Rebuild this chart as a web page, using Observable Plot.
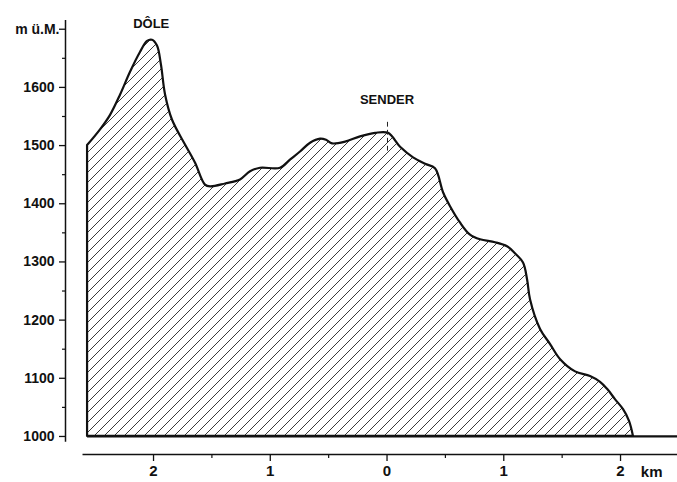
<!DOCTYPE html>
<html>
<head>
<meta charset="utf-8">
<script src="https://cdn.jsdelivr.net/npm/d3@7"></script>
<script src="https://cdn.jsdelivr.net/npm/@observablehq/plot@0.6"></script>
<style>
  html, body { margin: 0; padding: 0; background: #fff; }
  #chart svg { display: block; }
</style>
</head>
<body>
<div id="chart"></div>
<script>
// Distance from the transmitter (km, negative = west/left) and height (m ü.M.)
const profileKm = [-2.565, -2.454, -2.368, -2.282, -2.197, -2.112, -2.051, -2.009, -1.966, -1.932, -1.897, -1.838,
  -1.726, -1.641, -1.555, -1.511, -1.383, -1.255, -1.169, -1.084, -0.912, -0.827, -0.741, -0.655, -0.569,
  -0.518, -0.467, -0.355, -0.227, -0.098, 0.013, 0.116, 0.227, 0.330, 0.415, 0.484, 0.544, 0.629, 0.715,
  0.801, 0.930, 1.032, 1.100, 1.169, 1.204, 1.229, 1.315, 1.401, 1.487, 1.615, 1.743, 1.829, 1.889,
  1.958, 2.026, 2.077, 2.111];
const profileHeight = [1500, 1527, 1552, 1587, 1626, 1660, 1679, 1681, 1671, 1638, 1587, 1544,
  1501, 1470, 1432, 1429, 1434, 1441, 1455, 1461, 1461, 1475, 1489, 1504, 1511,
  1509, 1503, 1506, 1515, 1521, 1521, 1497, 1479, 1468, 1460, 1419, 1395, 1367, 1346,
  1338, 1333, 1326, 1314, 1298, 1269, 1235, 1184, 1158, 1132, 1111, 1103, 1093, 1081,
  1063, 1046, 1026, 1000];

const yTicks = [1000, 1100, 1200, 1300, 1400, 1500, 1600, 1700];
const yTickLabels = ["1000", "1100", "1200", "1300", "1400", "1500", "1600", ""];
const yUnit = "m ü.M.";
const yMinorTicks = [1050, 1150, 1250, 1350, 1450, 1550, 1650];
const xTicks = [-2, -1, 0, 1, 2];
const xTickLabels = ["2", "1", "0", "1", "2"];
const xMinorTicks = [-1.5, -0.5, 0.5, 1.5];
const xUnit = "km";

const placeNames = ["DÔLE", "SENDER"];
const placeKm = [-2.02, 0.0];
const placeHeight = [1710, 1578];
const senderMarkKm = [0.004, 0.004];
const senderMarkHeight = [1492, 1546];

const baseHeight = 1000;

const profile = profileKm.map((k, i) => ({km: k, h: profileHeight[i]}));
const places = placeNames.map((n, i) => ({name: n, km: placeKm[i], h: placeHeight[i]}));

const font = "'Liberation Sans', Arial, sans-serif";
const xMin = -2.754, xMax = 2.488;

const plot = Plot.plot({
  width: 677,
  height: 482,
  marginLeft: 65,
  marginRight: 0,
  marginTop: 20,
  marginBottom: 28,
  style: {fontFamily: font, background: "#fff", color: "#111"},
  x: {domain: [xMin, xMax], axis: null},
  y: {domain: [969, 1715], axis: null},
  marks: [
    Plot.areaY(profile, {x: "km", y1: baseHeight, y2: "h", fill: "url(#hatch)", stroke: "#111", strokeWidth: 2.2, strokeLinejoin: "round", curve: "catmull-rom"}),
    Plot.ruleY([baseHeight], {x1: profileKm[0], x2: xMax, stroke: "#111", strokeWidth: 2.2}),
    Plot.line(senderMarkKm.map((k, i) => ({km: k, h: senderMarkHeight[i]})), {x: "km", y: "h", stroke: "#222", strokeWidth: 1, strokeDasharray: "4,4"}),
    Plot.text(places, {x: "km", y: "h", text: "name", fontSize: 13, fontWeight: "bold", fill: "#111", letterSpacing: 1}),
    // y axis line
    Plot.ruleX([xMin], {y1: 990, y2: 1715, stroke: "#111", strokeWidth: 1.5}),
    Plot.axisY({ticks: yTicks, tickFormat: d => yTickLabels[yTicks.indexOf(d)], tickSize: 6, tickPadding: 5, fontSize: 14, fontWeight: "bold", letterSpacing: 1.5, strokeWidth: 1.3, label: null}),
    Plot.axisY({ticks: yMinorTicks, tickFormat: () => "", tickSize: 3, strokeWidth: 1.2, label: null}),
    Plot.text([yUnit], {x: xMin, y: 1700, text: d => d, dx: -6, textAnchor: "end", fontSize: 14, fontWeight: "bold", fill: "#111"}),
    // x axis line
    Plot.ruleY([969], {x1: -2.604, x2: xMax, stroke: "#111", strokeWidth: 1.5}),
    Plot.axisX({ticks: xTicks, tickFormat: d => xTickLabels[xTicks.indexOf(d)], tickSize: 7, tickPadding: 4, fontSize: 15, fontWeight: "bold", strokeWidth: 1.3, anchor: "bottom", label: null}),
    Plot.axisX({ticks: xMinorTicks, tickFormat: () => "", tickSize: 4, strokeWidth: 1.2, anchor: "bottom", label: null}),
    Plot.text([xUnit], {x: 2.267, y: 969, text: d => d, dy: 18, fontSize: 15, fontWeight: "bold", fill: "#111"})
  ]
});

const ns = "http://www.w3.org/2000/svg";
const defs = document.createElementNS(ns, "defs");
defs.innerHTML = `<pattern id="hatch" patternUnits="userSpaceOnUse" width="10" height="10">
  <path d="M-1,11 L11,-1 M-3,3 L3,-3 M7,13 L13,7" stroke="#222" stroke-width="0.9" fill="none"/>
</pattern>`;
plot.insertBefore(defs, plot.firstChild);
document.getElementById("chart").appendChild(plot);
</script>
</body>
</html>
